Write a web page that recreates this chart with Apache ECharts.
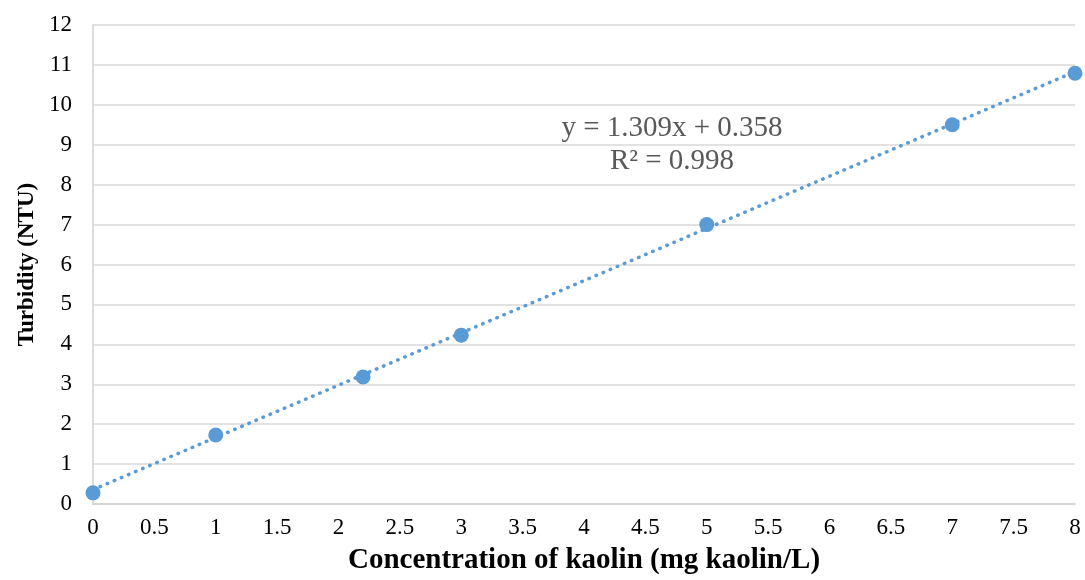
<!DOCTYPE html>
<html>
<head>
<meta charset="utf-8">
<script src="https://cdn.jsdelivr.net/npm/echarts@6/dist/echarts.min.js"></script>
<style>html,body{margin:0;padding:0;background:#fff;}#c{width:1085px;height:580px;}</style>
</head>
<body>
<div id="c"></div>
<script>
const concentration = [0, 1, 2.2, 3, 5, 7, 8];
const turbidity = [0.28, 1.73, 3.18, 4.23, 7.0, 9.5, 10.79];
const trendSlope = 1.309;
const trendIntercept = 0.358;
const trendRange = [0, 8];
const equationText = 'y = 1.309x + 0.358';
const r2Text = 'R² = 0.998';
const xTitle = 'Concentration of kaolin (mg kaolin/L)';
const yTitle = 'Turbidity (NTU)';

const chart = echarts.init(document.getElementById('c'), null, {renderer: 'canvas'});
const font = '"Liberation Serif", "Times New Roman", serif';
const trendData = trendRange.map(x => [x, trendSlope * x + trendIntercept]);

chart.setOption({
  animation: false,
  backgroundColor: '#fff',
  grid: {left: 93, right: 10, top: 25, bottom: 74},
  xAxis: {
    type: 'value', min: 0, max: 8, interval: 0.5,
    name: xTitle, nameLocation: 'middle', nameGap: 42,
    nameTextStyle: {fontFamily: font, fontSize: 29, fontWeight: 'bold', color: '#000'},
    axisLine: {show: true, lineStyle: {color: '#d0d0d0', width: 1.5}},
    axisTick: {show: false},
    splitLine: {show: false},
    axisLabel: {fontFamily: font, fontSize: 23, color: '#000', margin: 12}
  },
  yAxis: {
    type: 'value', min: 0, max: 12, interval: 1,
    name: yTitle, nameLocation: 'middle', nameGap: 52, nameRotate: 90,
    nameTextStyle: {fontFamily: font, fontSize: 23, fontWeight: 'bold', color: '#000'},
    axisLine: {show: true, lineStyle: {color: '#d0d0d0', width: 1.5}},
    axisTick: {show: false},
    splitLine: {show: true, lineStyle: {color: '#d9d9d9', width: 1.5}},
    axisLabel: {fontFamily: font, fontSize: 23, color: '#000', margin: 21}
  },
  series: [
    {
      type: 'line', data: trendData, showSymbol: false, symbol: 'none',
      lineStyle: {color: '#5B9BD5', width: 3.5, type: [0.5, 7.2], cap: 'round'},
      z: 2
    },
    {
      type: 'scatter', data: concentration.map((x, i) => [x, turbidity[i]]),
      symbol: 'circle', symbolSize: 15,
      itemStyle: {color: '#5B9BD5', opacity: 1},
      z: 3
    }
  ],
  graphic: [
    {type: 'text', x: 672, y: 128, style: {text: equationText, font: '29px ' + font, fill: '#595959', align: 'center', verticalAlign: 'middle'}},
    {type: 'text', x: 672, y: 161, style: {text: r2Text, font: '29px ' + font, fill: '#595959', align: 'center', verticalAlign: 'middle'}}
  ]
});
</script>
</body>
</html>
